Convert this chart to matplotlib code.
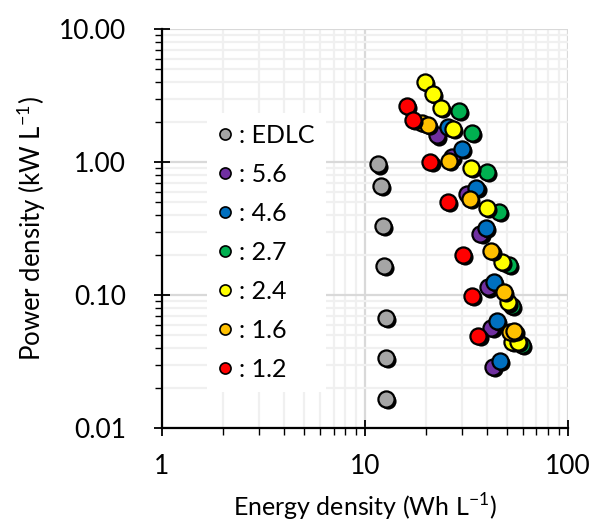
import numpy as np
import matplotlib
matplotlib.use("Agg")
import matplotlib.pyplot as plt
from matplotlib.transforms import ScaledTranslation
from matplotlib.ticker import FixedLocator, FixedFormatter, LogLocator, NullFormatter

plt.rcParams['font.family'] = ['Lato', 'DejaVu Sans']

# series labels and colours (legend order)
labels = ['EDLC', '5.6', '4.6', '2.7', '2.4', '1.6', '1.2']
colors = ['#a5a5a5', '#7030a0', '#0070c0', '#00b050', '#ffff00', '#ffc000', '#ff0000']

# energy density (Wh/L) and power density (kW/L)
e_edlc = [11.6, 12.0, 12.3, 12.4, 12.7, 12.7, 12.7]
p_edlc = [0.96, 0.66, 0.33, 0.165, 0.067, 0.0336, 0.0165]

e_56 = [22.6, 26.8, 32.0, 37.0, 40.5, 42.0, 42.7]
p_56 = [1.59, 1.09, 0.58, 0.29, 0.114, 0.057, 0.0287]

e_46 = [25.6, 30.0, 35.4, 39.4, 43.1, 44.6, 46.3]
p_46 = [1.83, 1.26, 0.64, 0.32, 0.125, 0.0636, 0.0319]

e_27 = [29.0, 33.6, 39.9, 45.7, 51.4, 52.8, 59.3]
p_27 = [2.42, 1.66, 0.84, 0.42, 0.168, 0.083, 0.042]

e_24 = [19.8, 21.6, 23.7, 27.0, 33.4, 39.9, 47.3, 50.6, 53.0, 56.5]
p_24 = [3.99, 3.24, 2.55, 1.77, 0.90, 0.455, 0.177, 0.088, 0.0442, 0.0445]

e_16 = [19.2, 20.4, 25.8, 32.9, 42.0, 48.3, 52.0, 54.5]
p_16 = [1.98, 1.90, 1.02, 0.53, 0.214, 0.105, 0.0525, 0.0535]

e_12 = [16.1, 17.2, 21.0, 25.6, 30.3, 33.6, 36.2]
p_12 = [2.64, 2.07, 1.01, 0.50, 0.20, 0.098, 0.049]

energy = [e_edlc, e_56, e_46, e_27, e_24, e_16, e_12]
power = [p_edlc, p_56, p_46, p_27, p_24, p_16, p_12]

fig = plt.figure(figsize=(5.9, 5.31), dpi=100)
ax = fig.add_axes([0.2746, 0.194, 0.688, 0.751])

shadow = ax.transData + ScaledTranslation(1.6 / 72, -1.6 / 72, fig.dpi_scale_trans)
for i in range(len(labels)):
    ax.scatter(energy[i], power[i], s=135, color='black', transform=shadow, zorder=3 + 2 * i, linewidths=0)
    ax.scatter(energy[i], power[i], s=135, color=colors[i], edgecolors='black', linewidths=1.6,
               zorder=4 + 2 * i)

ax.set_xscale('log')
ax.set_yscale('log')
ax.set_xlim(1, 100)
ax.set_ylim(0.01, 10)

ax.xaxis.set_major_locator(FixedLocator([1, 10, 100]))
ax.xaxis.set_major_formatter(FixedFormatter(['1', '10', '100']))
ax.yaxis.set_major_locator(FixedLocator([0.01, 0.1, 1, 10]))
ax.yaxis.set_major_formatter(FixedFormatter(['0.01', '0.10', '1.00', '10.00']))
ax.xaxis.set_minor_locator(LogLocator(base=10, subs=np.arange(2, 10)))
ax.yaxis.set_minor_locator(LogLocator(base=10, subs=np.arange(2, 10)))
ax.xaxis.set_minor_formatter(NullFormatter())
ax.yaxis.set_minor_formatter(NullFormatter())

ax.grid(True, which='minor', color='#f0f0f0', linewidth=1.6, zorder=0)
ax.grid(True, which='major', color='#d9d9d9', linewidth=1.6, zorder=0)
ax.set_axisbelow(True)

for side in ['top', 'right']:
    ax.spines[side].set_visible(False)
for side in ['left', 'bottom']:
    ax.spines[side].set_linewidth(1.6)

ax.tick_params(which='major', direction='inout', length=12, width=1.3, labelsize=19)
ax.tick_params(which='minor', direction='out', length=5, width=1.0)
ax.tick_params(axis='x', which='major', pad=13)
ax.tick_params(axis='y', which='major', pad=20)

ax.set_xlabel('Energy density (Wh L$^{\\mathregular{-1}}$)', fontsize=18, labelpad=9)
ax.set_ylabel('Power density (kW L$^{\\mathregular{-1}}$)', fontsize=18.5, labelpad=8)

handles = [plt.Line2D([], [], linestyle='none', marker='o', markersize=8, markerfacecolor=c,
                      markeredgecolor='black', markeredgewidth=1.2) for c in colors]
leg = ax.legend(handles, [': ' + t for t in labels], loc='upper left',
                bbox_to_anchor=(0.11, 0.79), frameon=True, fancybox=False,
                fontsize=18, handlelength=0.6, handletextpad=0.25, labelspacing=0.64,
                borderpad=0.45, borderaxespad=0)
leg.get_frame().set_facecolor('white')
leg.get_frame().set_edgecolor('none')
leg.get_frame().set_alpha(1)
leg.set_zorder(2)

fig.savefig('out.png', dpi=100)
